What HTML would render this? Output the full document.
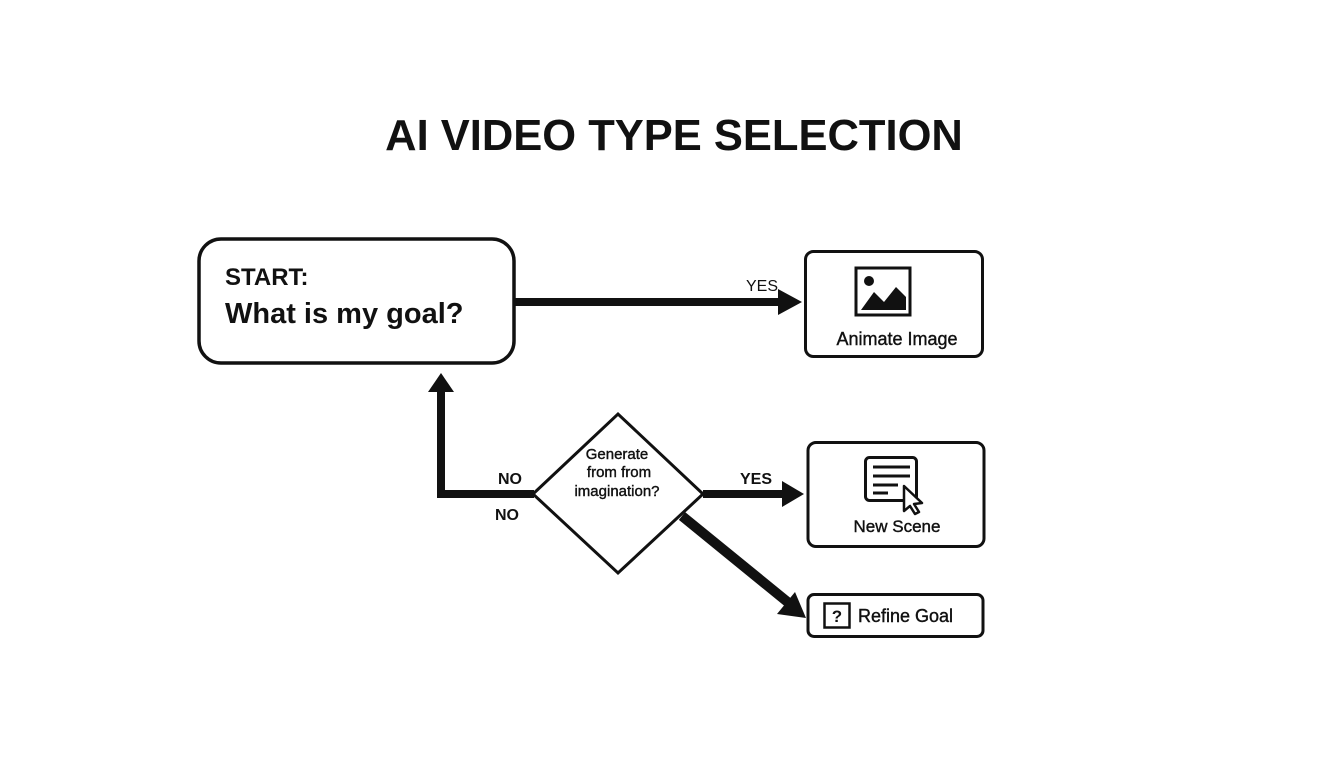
<!DOCTYPE html>
<html><head><style>html,body{margin:0;padding:0;background:#fff;}svg{display:block}</style></head>
<body>
<svg width="1344" height="768" viewBox="0 0 1344 768" xmlns="http://www.w3.org/2000/svg" font-family="Liberation Sans, sans-serif" font-weight="bold">
<rect width="1344" height="768" fill="#fff"/>
<text x="674" y="150" text-anchor="middle" font-size="43.5" fill="#111">AI VIDEO TYPE SELECTION</text>

<!-- start box -->
<rect x="199" y="239" width="315" height="124" rx="22" fill="#fff" stroke="#111" stroke-width="3.5"/>
<text x="225" y="285" font-size="24" fill="#111">START:</text>
<text x="225" y="323" font-size="29" fill="#111">What is my goal?</text>

<!-- arrow to animate -->
<line x1="514" y1="302" x2="782" y2="302" stroke="#111" stroke-width="8"/>
<polygon points="778,289 802,302 778,315" fill="#111"/>
<text x="762" y="291" text-anchor="middle" font-size="16" font-weight="normal" fill="#111">YES</text>

<!-- animate image box -->
<rect x="805.5" y="251.5" width="177" height="105" rx="8" fill="#fff" stroke="#111" stroke-width="3"/>
<rect x="856" y="268" width="54" height="47" fill="none" stroke="#111" stroke-width="3"/>
<circle cx="869" cy="281" r="5" fill="#111"/>
<polygon points="861,310 874,292 884,302 896,287 906,297 906,310" fill="#111"/>
<text x="897" y="345" text-anchor="middle" font-size="18" font-weight="normal" fill="#111" stroke="#111" stroke-width="0.4">Animate Image</text>

<!-- left NO path -->
<polyline points="534,494 441,494 441,388" fill="none" stroke="#111" stroke-width="8" stroke-linejoin="miter"/>
<polygon points="428,392 441,373 454,392" fill="#111"/>
<text x="510" y="484" text-anchor="middle" font-size="16" fill="#111">NO</text>
<text x="507" y="520" text-anchor="middle" font-size="16" fill="#111">NO</text>

<!-- diamond -->
<polygon points="533,494 618,414 703,494 618,573" fill="#fff" stroke="#111" stroke-width="3"/>
<text x="617" y="459" text-anchor="middle" font-size="15" fill="#111" font-weight="normal" stroke="#111" stroke-width="0.4">Generate</text>
<text x="619" y="477" text-anchor="middle" font-size="15" fill="#111" font-weight="normal" stroke="#111" stroke-width="0.4">from from</text>
<text x="617" y="496" text-anchor="middle" font-size="15" fill="#111" font-weight="normal" stroke="#111" stroke-width="0.4">imagination?</text>

<!-- YES arrow to new scene -->
<line x1="703" y1="494" x2="786" y2="494" stroke="#111" stroke-width="8"/>
<polygon points="782,481 804,494 782,507" fill="#111"/>
<text x="756" y="484" text-anchor="middle" font-size="16" fill="#111">YES</text>

<!-- new scene box -->
<rect x="808" y="442.5" width="176" height="104" rx="8" fill="#fff" stroke="#111" stroke-width="3"/>
<rect x="865.5" y="457.5" width="51" height="43" rx="4" fill="#fff" stroke="#111" stroke-width="3"/>
<line x1="873" y1="467" x2="910" y2="467" stroke="#111" stroke-width="3"/>
<line x1="873" y1="476" x2="910" y2="476" stroke="#111" stroke-width="3"/>
<line x1="873" y1="485" x2="898" y2="485" stroke="#111" stroke-width="3"/>
<line x1="873" y1="493" x2="888" y2="493" stroke="#111" stroke-width="3"/>
<polygon points="904,486 922,503 914,504 919,512 915,514 910,506 904,511" fill="#fff" stroke="#111" stroke-width="2.5" stroke-linejoin="round"/>
<text x="897" y="532" text-anchor="middle" font-size="17" font-weight="normal" fill="#111" stroke="#111" stroke-width="0.4">New Scene</text>

<!-- diagonal -->
<line x1="682" y1="516" x2="790" y2="604" stroke="#111" stroke-width="10"/>
<polygon points="777,614 795,592 806,618" fill="#111"/>

<!-- refine goal -->
<rect x="808" y="594.5" width="175" height="42" rx="6" fill="#fff" stroke="#111" stroke-width="3"/>
<rect x="824.5" y="603.5" width="25" height="24" fill="#fff" stroke="#111" stroke-width="2.5"/>
<text x="837" y="622" text-anchor="middle" font-size="17" fill="#111">?</text>
<text x="858" y="622" font-size="18" font-weight="normal" fill="#111" stroke="#111" stroke-width="0.4">Refine Goal</text>
</svg>
</body></html>
